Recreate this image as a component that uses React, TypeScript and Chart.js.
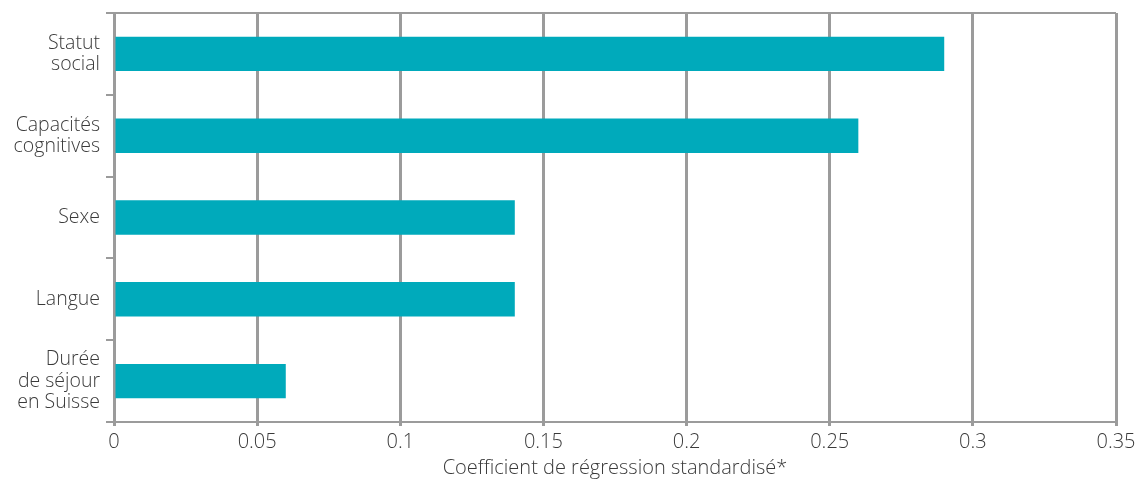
import React, { useEffect, useRef } from "react";
import { Chart, registerables } from "chart.js";

Chart.register(...registerables);

const categories: string[][] = [
  ["Statut", "social"],
  ["Capacités", "cognitives"],
  ["Sexe"],
  ["Langue"],
  ["Durée", "de séjour", "en Suisse"],
];
const coefficients: number[] = [0.29, 0.26, 0.14, 0.14, 0.06];
const xTicks: number[] = [0, 0.05, 0.1, 0.15, 0.2, 0.25, 0.3, 0.35];
const xTitle = "Coefficient de régression standardisé*";

const GRID = "#9b9b9b";
const TEXT = "#3a3a3a";
const BAR = "#00aabb";
const FONT = "'Open Sans', 'Noto Sans', sans-serif";

export default function App() {
  const ref = useRef<HTMLCanvasElement>(null);
  useEffect(() => {
    document.body.style.margin = "0";
    if (!ref.current) return;
    const chart = new Chart(ref.current, {
      type: "bar",
      data: {
        labels: categories,
        datasets: [
          {
            data: coefficients,
            backgroundColor: BAR,
            borderWidth: 0,
            categoryPercentage: 1,
            barPercentage: 0.42,
          },
        ],
      },
      options: {
        indexAxis: "y",
        animation: false,
        responsive: false,
        maintainAspectRatio: false,
        layout: { padding: { top: 13, right: 24, left: 0, bottom: 0 } },
        plugins: { legend: { display: false }, tooltip: { enabled: false } },
        scales: {
          x: {
            type: "linear",
            min: 0,
            max: 0.35,
            afterBuildTicks: (scale: any) => {
              scale.ticks = xTicks.map((v) => ({ value: v }));
            },
            afterFit: (scale: any) => {
              scale.height = 57;
            },
            ticks: {
              color: TEXT,
              font: { family: FONT, size: 20, weight: "300" as any },
              padding: 4,
              callback: (v: any) => String(Number(v)),
            },
            grid: {
              color: GRID,
              lineWidth: 3,
              tickLength: 4,
              tickColor: GRID,
              drawOnChartArea: true,
            },
            border: { display: true, color: GRID, width: 2 },
            title: {
              display: true,
              text: xTitle,
              color: TEXT,
              font: { family: FONT, size: 20, weight: "300" as any },
              padding: { top: 0, bottom: -1 },
            },
          },
          y: {
            type: "category",
            afterFit: (scale: any) => {
              scale.width = 114;
              scale.paddingTop = 0;
              scale.paddingBottom = 0;
            },
            ticks: {
              color: TEXT,
              font: { family: FONT, size: 19.5, weight: "300" as any, lineHeight: 1.1 },
              padding: 6,
            },
            grid: {
              offset: true,
              color: (ctx: any) => (ctx.index === 0 ? GRID : "rgba(0,0,0,0)"),
              lineWidth: 2,
              tickLength: 8,
              tickColor: GRID,
              drawOnChartArea: true,
            },
            border: { display: true, color: GRID, width: 3 },
          },
        },
      },
    });
    return () => chart.destroy();
  }, []);
  return (
    <div style={{ width: 1140, height: 479 }}>
      <canvas ref={ref} width={1140} height={479} style={{ display: "block" }} />
    </div>
  );
}
